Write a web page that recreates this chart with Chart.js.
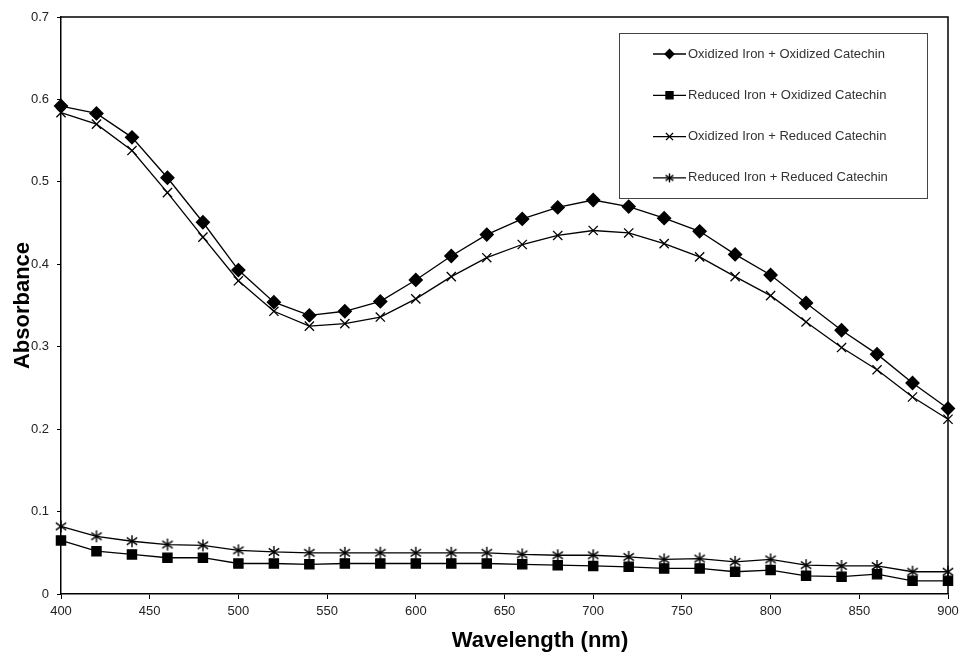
<!DOCTYPE html>
<html>
<head>
<meta charset="utf-8">
<script src="https://cdn.jsdelivr.net/npm/chart.js@4.4.0/dist/chart.umd.min.js"></script>
<style>
html, body { margin: 0; padding: 0; background: #fff; }
</style>
</head>
<body>
<canvas id="c" width="960" height="656"></canvas>
<script>
// ******************************************************** DATA

var wavelength = [400,420,440,460,480,500,520,540,560,580,600,620,640,660,680,700,720,740,760,780,800,820,840,860,880,900];

var oxIronOxCat  = [0.592,0.583,0.554,0.505,0.451,0.393,0.354,0.338,0.343,0.355,0.381,0.410,0.436,0.455,0.469,0.478,0.470,0.456,0.440,0.412,0.387,0.353,0.320,0.291,0.256,0.225];
var redIronOxCat = [0.065,0.052,0.048,0.044,0.044,0.037,0.037,0.036,0.037,0.037,0.037,0.037,0.037,0.036,0.035,0.034,0.033,0.031,0.031,0.027,0.029,0.022,0.021,0.024,0.016,0.016];
var oxIronRedCat = [0.584,0.570,0.538,0.487,0.433,0.380,0.343,0.325,0.328,0.336,0.358,0.385,0.408,0.424,0.435,0.441,0.438,0.425,0.409,0.385,0.362,0.330,0.299,0.272,0.239,0.212];
var redIronRedCat = [0.082,0.070,0.064,0.060,0.059,0.053,0.051,0.050,0.050,0.050,0.050,0.050,0.050,0.048,0.047,0.047,0.045,0.042,0.043,0.039,0.042,0.035,0.034,0.034,0.027,0.027];

var seriesLabels = [
	'Oxidized Iron + Oxidized Catechin',
	'Reduced Iron + Oxidized Catechin',
	'Oxidized Iron + Reduced Catechin',
	'Reduced Iron + Reduced Catechin'
];

var xTitle = 'Wavelength (nm)';

// ******************************************************** MARKERS

// six-armed asterisk, chart.js 'star' has eight arms
function makeAsterisk(size) {
	var cv = document.createElement('canvas');
	cv.width = size; cv.height = size;
	var g = cv.getContext('2d');
	var m = size / 2, r = size / 2 - 1;
	g.strokeStyle = '#000';
	g.lineWidth = 1.4;
	g.beginPath();
	g.moveTo(m, m - r); g.lineTo(m, m + r);
	g.moveTo(m - r * 0.87, m - r * 0.6); g.lineTo(m + r * 0.87, m + r * 0.6);
	g.moveTo(m - r * 0.87, m + r * 0.6); g.lineTo(m + r * 0.87, m - r * 0.6);
	g.stroke();
	return cv;
}
var asterisk = makeAsterisk(14);
var asteriskSmall = makeAsterisk(11);

function pts(ys) {
	return wavelength.map(function (x, i) { return {x: x, y: ys[i]}; });
}

function series(label, ys, style, radius) {
	return {
		label: label,
		data: pts(ys),
		borderColor: '#000',
		backgroundColor: '#000',
		borderWidth: 1.3,
		pointStyle: style,
		pointRadius: radius,
		pointBorderWidth: 1.3,
		pointBackgroundColor: '#000',
		pointBorderColor: '#000',
		tension: 0,
		clip: false
	};
}

// ******************************************************** PLUGINS

var framePlugin = {
	id: 'frame',
	beforeDatasetsDraw: function (chart) {
		var a = chart.chartArea, ctx = chart.ctx;
		ctx.save();
		ctx.strokeStyle = '#000';
		ctx.lineWidth = 1.5;
		ctx.beginPath();
		ctx.moveTo(a.left, a.top);
		ctx.lineTo(a.right, a.top);
		ctx.lineTo(a.right, a.bottom);
		ctx.stroke();
		// x title sits right of centre in the original
		ctx.fillStyle = '#000';
		ctx.font = 'bold 22px "Liberation Sans", Arial, sans-serif';
		ctx.textAlign = 'center';
		ctx.textBaseline = 'middle';
		ctx.fillText(xTitle, 540, 641);
		ctx.restore();
	}
};

var boxLegend = {
	id: 'boxLegend',
	afterDraw: function (chart) {
		var ctx = chart.ctx;
		var styles = ['rectRot', 'rect', 'crossRot', asteriskSmall];
		var radii = [4.5, 5, 5, 5];
		var x0 = 619, y0 = 33, w = 308, h = 165;
		ctx.save();
		ctx.fillStyle = '#fff';
		ctx.fillRect(x0, y0, w, h);
		ctx.strokeStyle = '#444';
		ctx.lineWidth = 1;
		ctx.strokeRect(x0 + 0.5, y0 + 0.5, w, h);
		ctx.font = '13px "Liberation Sans", Arial, sans-serif';
		ctx.textBaseline = 'middle';
		ctx.textAlign = 'left';
		for (var i = 0; i < seriesLabels.length; i++) {
			var y = 54 + i * 41.3;
			ctx.strokeStyle = '#000';
			ctx.lineWidth = 1.3;
			ctx.beginPath();
			ctx.moveTo(653, y); ctx.lineTo(686, y);
			ctx.stroke();
			ctx.fillStyle = '#000';
			Chart.helpers.drawPoint(ctx, {pointStyle: styles[i], radius: radii[i], borderWidth: 1.3, rotation: 0}, 669.5, y);
			ctx.fillStyle = '#333';
			ctx.fillText(seriesLabels[i], 688, y);
		}
		ctx.restore();
	}
};

// ******************************************************** CHART

var ctx = document.getElementById('c').getContext('2d');

new Chart(ctx, {
	type: 'line',
	data: {
		datasets: [
			series(seriesLabels[0], oxIronOxCat, 'rectRot', 6.5),
			series(seriesLabels[1], redIronOxCat, 'rect', 6.5),
			series(seriesLabels[2], oxIronRedCat, 'crossRot', 6.5),
			series(seriesLabels[3], redIronRedCat, asterisk, 7)
		]
	},
	options: {
		responsive: false,
		animation: false,
		layout: { padding: { top: 17, right: 12, left: 0, bottom: 0 } },
		plugins: {
			legend: { display: false },
			tooltip: { enabled: false }
		},
		scales: {
			x: {
				type: 'linear',
				min: 400, max: 900,
				afterFit: function (s) { s.height = 62; s.paddingLeft = 0; s.paddingRight = 0; },
				border: { color: '#000', width: 1.5 },
				grid: { drawOnChartArea: false, tickLength: 5, color: '#000' },
				ticks: {
					stepSize: 50,
					color: '#222',
					padding: 5,
					maxRotation: 0,
					font: { family: '"Liberation Sans", Arial, sans-serif', size: 13 }
				},
				title: { display: false }
			},
			y: {
				min: 0, max: 0.7,
				afterFit: function (s) { s.width = 61; s.paddingTop = 0; s.paddingBottom = 0; },
				border: { color: '#000', width: 1.5 },
				grid: { drawOnChartArea: false, tickLength: 4, color: '#000' },
				ticks: {
					stepSize: 0.1,
					color: '#222',
					padding: 8,
					font: { family: '"Liberation Sans", Arial, sans-serif', size: 13 },
					callback: function (v) { return Math.round(v * 10) / 10; }
				},
				title: {
					display: true,
					text: 'Absorbance',
					color: '#000',
					padding: 10,
					font: { family: '"Liberation Sans", Arial, sans-serif', size: 22, weight: 'bold' }
				}
			}
		}
	},
	plugins: [framePlugin, boxLegend]
});
</script>
</body>
</html>
